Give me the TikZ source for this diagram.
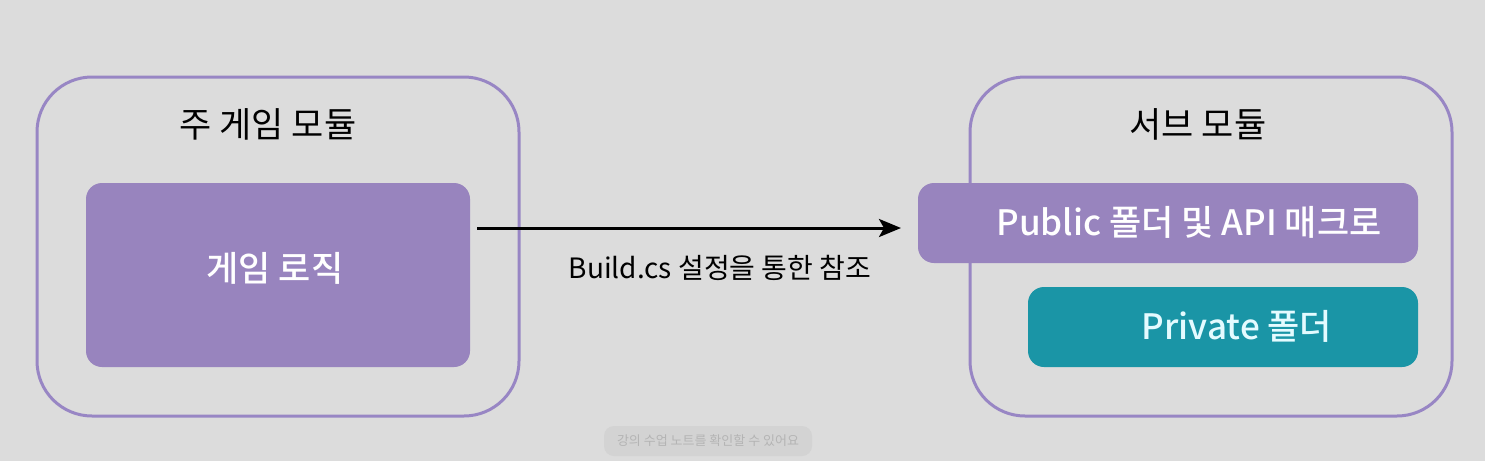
\documentclass[tikz,border=0pt]{standalone}
\usepackage{fontspec}
\setmainfont{Noto Sans CJK KR}
\newfontfamily\medfont{Noto Sans CJK KR Medium}
\usetikzlibrary{arrows.meta}
\definecolor{bg}{HTML}{DCDCDC}
\definecolor{frame}{HTML}{9886C4}
\definecolor{boxfill}{HTML}{9884BE}
\definecolor{teal}{HTML}{1A95A6}
\definecolor{paletext}{HTML}{E4FBFF}
\tikzset{
  outerbox/.style={draw=frame, line width=3pt, rounded corners=55pt, minimum width=482pt, minimum height=339pt, inner sep=0pt},
  purplebox/.style={fill=boxfill, rounded corners=16pt, inner sep=0pt},
  tealbox/.style={fill=teal, rounded corners=16pt, inner sep=0pt},
  title/.style={font=\fontsize{35pt}{38pt}\selectfont, text=black},
  boxtext/.style={font=\medfont\fontsize{35pt}{38pt}\selectfont, text=white},
  conn/.style={line width=3pt, -{Stealth[length=22pt,width=18pt,inset=5pt]}},
}
\begin{document}
\begin{tikzpicture}[x=1pt,y=-1pt]
\fill[bg] (0,0) rectangle (1485,461);
\useasboundingbox (0,0) rectangle (1485,461);
% left module
\node[outerbox] (lo) at (278,246.5) {};
\node[title] (lt) at (268,124) {주 게임 모듈};
\node[purplebox, minimum width=384pt, minimum height=184pt] (li) at (278,275) {};
\node[boxtext] (lit) at (275,268) {게임 로직};
% right module
\node[outerbox] (ro) at (1211,246.5) {};
\node[title] (rt) at (1198,124) {서브 모듈};
\node[purplebox, minimum width=500pt, minimum height=80pt] (pub) at (1168,223) {};
\node[boxtext] (pubt) at (1189,222) {Public 폴더 및 API 매크로};
\node[tealbox, minimum width=390pt, minimum height=80pt] (pri) at (1223,327) {};
\node[boxtext, text=paletext] (prit) at (1237,326) {Private 폴더};
% connector
\coordinate (a1) at (477,228);
\coordinate (a2) at (901,228);
\draw[conn] (a1) -- (a2);
\node[font=\fontsize{28pt}{31pt}\selectfont, text=black] (lab) at (720,268) {Build.cs 설정을 통한 참조};
% faint caption
\node[fill=black!4!bg, rounded corners=10pt, minimum width=208pt, minimum height=30pt, text=black!18!bg, font=\fontsize{13pt}{15pt}\selectfont] (cap) at (708,441) {강의 수업 노트를 확인할 수 있어요};
\end{tikzpicture}
\end{document}
